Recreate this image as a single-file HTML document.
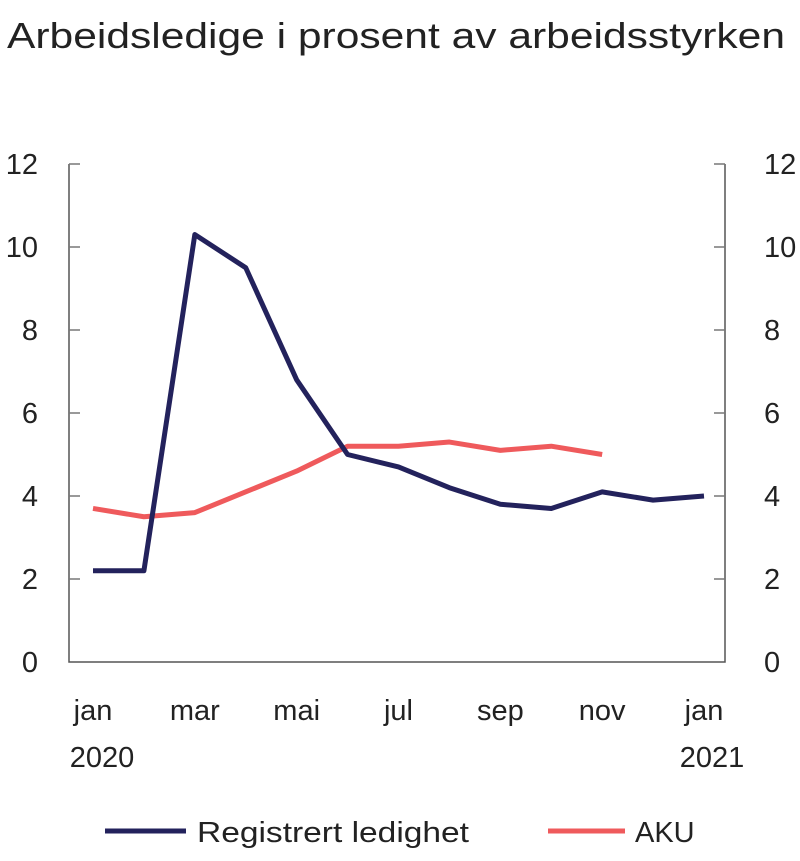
<!DOCTYPE html>
<html><head><meta charset="utf-8"><style>
html,body{margin:0;padding:0;background:#fff;}
svg{display:block;font-family:"Liberation Sans",sans-serif;}
</style></head><body>
<svg width="800" height="861">
<text x="7" y="48" font-size="36" textLength="778" lengthAdjust="spacingAndGlyphs" fill="#222">Arbeidsledige i prosent av arbeidsstyrken</text>
<g id="axes"></g>
<g id="series"></g>
<g>
<line x1="105" y1="831" x2="186" y2="831" stroke="#23225c" stroke-width="5"/>
<text x="197" y="842" font-size="29" textLength="272" lengthAdjust="spacingAndGlyphs" fill="#222">Registrert ledighet</text>
<line x1="548" y1="831" x2="625" y2="831" stroke="#ef5a5c" stroke-width="5"/>
<text x="635" y="842" font-size="29" fill="#222">AKU</text>
</g>
</svg>
<script>
const months=["jan","feb","mar","apr","mai","jun","jul","aug","sep","okt","nov","des","jan"];
const xLabels=["jan","mar","mai","jul","sep","nov","jan"];
const xLabelIdx=[0,2,4,6,8,10,12];
const yTicks=[0,2,4,6,8,10,12];
const registrert=[2.2,2.2,10.3,9.5,6.8,5.0,4.7,4.2,3.8,3.7,4.1,3.9,4.0];
const aku=[3.7,3.5,3.6,4.1,4.6,5.2,5.2,5.3,5.1,5.2,5.0];
const L=69,R=725,T=164,B=662;
const x=i=>93+i*(704-93)/12;
const y=v=>B-(v/12)*(B-T);
const NS="http://www.w3.org/2000/svg";
const ax=document.getElementById('axes'),se=document.getElementById('series');
function mk(tag,attrs,parent){const e=document.createElementNS(NS,tag);for(const k in attrs)e.setAttribute(k,attrs[k]);parent.appendChild(e);return e;}
let e;
e=mk('path',{d:`M${L},${T}V${B}H${R}V${T}`,fill:'none',stroke:'#555','stroke-width':1.5},ax);


yTicks.forEach(v=>{
 if(v>0){
 e=mk('line',{x1:L,x2:L+11,y1:y(v),y2:y(v),stroke:'#777','stroke-width':1.5},ax);
 
 
 e=mk('line',{x1:R-11,x2:R,y1:y(v),y2:y(v),stroke:'#777','stroke-width':1.5},ax);
 
 }
 e=mk('text',{x:38,y:y(v)+10,'font-size':29,fill:'#222','text-anchor':'end'},ax);e.textContent=v;
 
 
 e=mk('text',{x:764,y:y(v)+10,'font-size':29,fill:'#222'},ax);e.textContent=v;
 
 
});
xLabels.forEach((t,k)=>{
 e=mk('text',{x:x(xLabelIdx[k]),y:720,'font-size':29,fill:'#222','text-anchor':'middle'},ax);e.textContent=t;
 
 
});
e=mk('text',{x:x(0)+9,y:767,'font-size':29,fill:'#222','text-anchor':'middle'},ax);e.textContent='2020';


e=mk('text',{x:x(12)+8,y:767,'font-size':29,fill:'#222','text-anchor':'middle'},ax);e.textContent='2021';


function line(vals,col){
 const d=vals.map((v,i)=>(i?'L':'M')+x(i)+','+y(v)).join('');
 return mk('path',{d,fill:'none',stroke:col,'stroke-width':5,'stroke-linejoin':'round'},se);
}
e=line(aku,'#ef5a5c');


e=line(registrert,'#23225c');


</script>
</body></html>
